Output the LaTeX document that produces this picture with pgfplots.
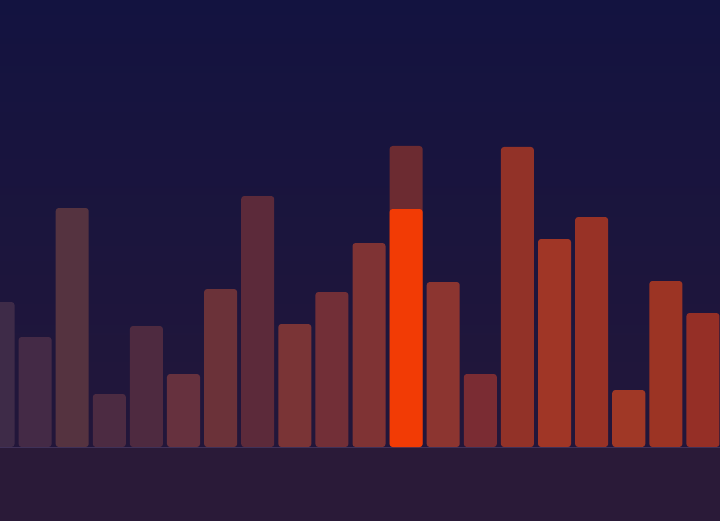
\documentclass[border=0pt]{standalone}
\usepackage{pgfplots}
\pgfplotsset{compat=1.18}

% palette
\definecolor{bgtop}{HTML}{131340}
\definecolor{bgbot}{HTML}{251739}
\definecolor{floorc}{HTML}{2A1A38}
\definecolor{baseln}{HTML}{3F3158}
\definecolor{hot}{HTML}{F23B05}
\definecolor{ghost}{HTML}{6C2B31}

\begin{document}
\begin{tikzpicture}
\begin{axis}[
    scale only axis,
    width=360pt, height=260pt,
    xmin=0.054, xmax=19.46,
    ymin=-73, ymax=447,
    axis lines=none,
    ticks=none,
    axis background/.style={shade, top color=bgtop, bottom color=bgbot},
    ybar, bar width=0.89,
    every axis plot/.append style={draw=none, rounded corners=1.5pt, /pgf/bar shift=0pt},
]
% floor below the baseline
\fill[floorc] (axis cs:-1,-80) rectangle (axis cs:21,0);

\addplot[fill={rgb,255:red,62;green,43;blue,72}]  coordinates {(0,145)};
\addplot[fill={rgb,255:red,68;green,42;blue,70}]  coordinates {(1,110)};
\addplot[fill={rgb,255:red,85;green,51;blue,64}]  coordinates {(2,239)};
\addplot[fill={rgb,255:red,76;green,43;blue,66}]  coordinates {(3,53)};
\addplot[fill={rgb,255:red,78;green,42;blue,64}]  coordinates {(4,121)};
\addplot[fill={rgb,255:red,102;green,49;blue,62}] coordinates {(5,73)};
\addplot[fill={rgb,255:red,107;green,50;blue,57}] coordinates {(6,158)};
\addplot[fill={rgb,255:red,92;green,42;blue,58}]  coordinates {(7,251)};
\addplot[fill={rgb,255:red,122;green,52;blue,54}] coordinates {(8,123)};
\addplot[fill={rgb,255:red,114;green,47;blue,55}] coordinates {(9,155)};
\addplot[fill={rgb,255:red,127;green,51;blue,52}] coordinates {(10,204)};
\addplot[fill={rgb,255:red,140;green,53;blue,48}] coordinates {(12,165)};
\addplot[fill={rgb,255:red,122;green,44;blue,51}] coordinates {(13,73)};
\addplot[fill={rgb,255:red,146;green,50;blue,40}] coordinates {(14,300)};
\addplot[fill={rgb,255:red,160;green,54;blue,38}] coordinates {(15,208)};
\addplot[fill={rgb,255:red,152;green,50;blue,38}] coordinates {(16,230)};
\addplot[fill={rgb,255:red,160;green,56;blue,38}] coordinates {(17,57)};
\addplot[fill={rgb,255:red,156;green,52;blue,36}] coordinates {(18,166)};
\addplot[fill={rgb,255:red,149;green,47;blue,38}] coordinates {(19,134)};

% baseline
\draw[baseln, line width=0.5pt] (axis cs:-1,0) -- (axis cs:21,0);

% highlighted bar: previous value behind, current value in front
\addplot[fill=ghost] coordinates {(11,301)};
\addplot[fill=hot]   coordinates {(11,238)};
\end{axis}
\end{tikzpicture}
\end{document}
